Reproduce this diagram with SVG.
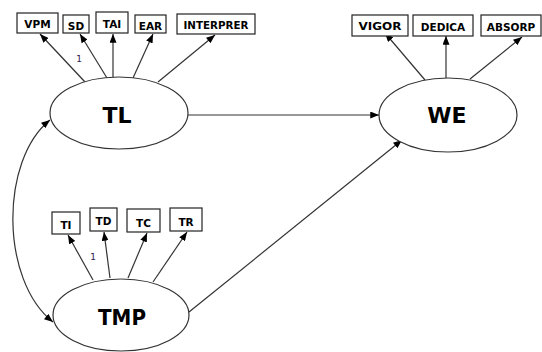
<svg xmlns="http://www.w3.org/2000/svg" width="542" height="352" viewBox="0 0 542 352">
<style>
.box{fill:#fff;stroke:#222;stroke-width:1.2}
.bl{font-family:"DejaVu Sans",sans-serif;font-weight:bold;font-size:10.5px;fill:#000;text-anchor:middle}
.ell{fill:#fff;stroke:#333;stroke-width:1.2}
.big{font-family:"DejaVu Sans",sans-serif;font-weight:bold;font-size:22px;fill:#000;text-anchor:middle}
.ln{fill:none;stroke:#333;stroke-width:1.2}
.one{font-family:"DejaVu Sans",sans-serif;font-size:9px;fill:#302050;text-anchor:middle}
</style>
<defs>
<marker id="ah" viewBox="0 0 10 8" refX="10" refY="4" markerWidth="9" markerHeight="7" markerUnits="userSpaceOnUse" orient="auto-start-reverse">
<path d="M0,0 L10,4 L0,8 Z" fill="#000"/>
</marker>
</defs>
<rect width="542" height="352" fill="#fff"/>
<g id="connectors">
<line class="ln" x1="85" y1="82" x2="40" y2="34" marker-end="url(#ah)"/>
<line class="ln" x1="107" y1="78" x2="80" y2="34" marker-end="url(#ah)"/>
<line class="ln" x1="113" y1="77" x2="113" y2="34" marker-end="url(#ah)"/>
<line class="ln" x1="133" y1="78" x2="153" y2="34" marker-end="url(#ah)"/>
<line class="ln" x1="158" y1="82" x2="215" y2="35" marker-end="url(#ah)"/>
<line class="ln" x1="425" y1="80" x2="385" y2="33" marker-end="url(#ah)"/>
<line class="ln" x1="446" y1="78" x2="446" y2="36" marker-end="url(#ah)"/>
<line class="ln" x1="470" y1="79" x2="522" y2="37" marker-end="url(#ah)"/>
<line class="ln" x1="93" y1="280" x2="68" y2="235" marker-end="url(#ah)"/>
<line class="ln" x1="110" y1="278" x2="104" y2="232" marker-end="url(#ah)"/>
<line class="ln" x1="128" y1="278" x2="147" y2="233" marker-end="url(#ah)"/>
<line class="ln" x1="153" y1="282" x2="187" y2="232" marker-end="url(#ah)"/>
<line class="ln" x1="188" y1="115" x2="379" y2="115" marker-end="url(#ah)"/>
<line class="ln" x1="189" y1="312" x2="402" y2="140" marker-end="url(#ah)"/>
<path class="ln" d="M50,120 C0,160 0,280 53,322" marker-start="url(#ah)" marker-end="url(#ah)"/>
<text class="one" x="79" y="62">1</text>
<text class="one" x="93" y="260">1</text>
</g>
<g id="VPM"><rect class="box" x="17" y="13" width="41" height="20"/><text class="bl" x="37.5" y="28">VPM</text></g>
<g id="SD"><rect class="box" x="63" y="15" width="26" height="18"/><text class="bl" x="76" y="30">SD</text></g>
<g id="TAI"><rect class="box" x="96" y="12" width="32" height="21"/><text class="bl" x="112" y="28">TAI</text></g>
<g id="EAR"><rect class="box" x="135" y="15" width="31" height="18"/><text class="bl" x="150.5" y="30">EAR</text></g>
<g id="INTERPRER"><rect class="box" x="177" y="14" width="78" height="20"/><text class="bl" x="216" y="29" textLength="65" lengthAdjust="spacingAndGlyphs">INTERPRER</text></g>
<g id="VIGOR"><rect class="box" x="352" y="15" width="56" height="21"/><text class="bl" x="380" y="29.5" textLength="43" lengthAdjust="spacingAndGlyphs">VIGOR</text></g>
<g id="DEDICA"><rect class="box" x="413" y="15" width="60" height="21"/><text class="bl" x="443" y="31">DEDICA</text></g>
<g id="ABSORP"><rect class="box" x="481" y="15" width="60" height="21"/><text class="bl" x="511" y="31">ABSORP</text></g>
<g id="TI"><rect class="box" x="52" y="212" width="28" height="22"/><text class="bl" x="66" y="229">TI</text></g>
<g id="TD"><rect class="box" x="90" y="208" width="27" height="23"/><text class="bl" x="103.5" y="225">TD</text></g>
<g id="TC"><rect class="box" x="127" y="209" width="33" height="23"/><text class="bl" x="143.5" y="227">TC</text></g>
<g id="TR"><rect class="box" x="170" y="208" width="32" height="23"/><text class="bl" x="186" y="226">TR</text></g>
<g id="TL"><ellipse class="ell" cx="119" cy="113" rx="69" ry="36"/><text class="big" x="117" y="123">TL</text></g>
<g id="WE"><ellipse class="ell" cx="448" cy="115" rx="69" ry="37"/><text class="big" x="447" y="123">WE</text></g>
<g id="TMP"><ellipse class="ell" cx="121" cy="315" rx="68" ry="36"/><text class="big" x="122" y="325" textLength="48" lengthAdjust="spacingAndGlyphs">TMP</text></g>
</svg>
